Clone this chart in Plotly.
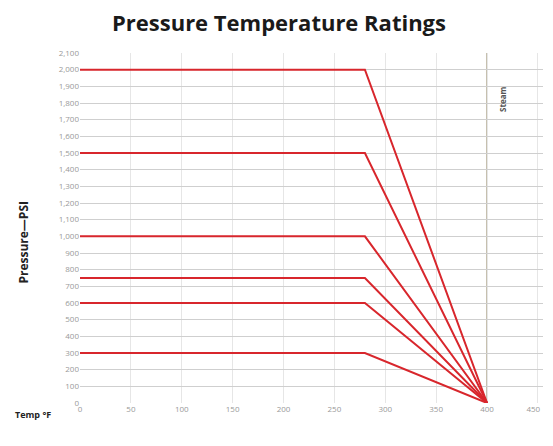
import plotly.graph_objects as go

# Data
ratings_psi = [2000, 1500, 1000, 750, 600, 300]
knee_temp_f = [0, 280, 400]          # start, end of full rating, zero-pressure temperature
x_ticks = [0, 50, 100, 150, 200, 250, 300, 350, 400, 450]
y_ticks = list(range(0, 2101, 100))
y_tick_labels = [f"{v:,}" for v in y_ticks]
max_temp_line = 400

x_tick_labels = [str(v) for v in x_ticks]
x_tick_labels[-1] = x_tick_labels[-1] + "\u2007\u2007"   # keep last label inside the window

fig = go.Figure()
for p in ratings_psi:
    fig.add_trace(go.Scatter(
        x=knee_temp_f,
        y=[p, p, 0],
        mode="lines",
        line=dict(color="#d8262c", width=2),
        showlegend=False,
        hoverinfo="skip",
    ))

fig.add_shape(type="line", xref="x", yref="paper", x0=max_temp_line, x1=max_temp_line,
              y0=0, y1=1, line=dict(color="#b0a890", width=1.5), layer="below")

fig.update_layout(
    width=553, height=446,
    margin=dict(l=72, r=13, t=45, b=51),
    paper_bgcolor="white", plot_bgcolor="white",
    xaxis=dict(range=[0, 455], tickvals=x_ticks, ticktext=x_tick_labels,
               showgrid=True, gridcolor="#e6e6e6", gridwidth=1, zeroline=False,
               showline=False, ticks="",
               tickfont=dict(family="Open Sans", size=8, color="#999999")),
    yaxis=dict(range=[0, 2100], tickvals=y_ticks, ticktext=y_tick_labels,
               showgrid=True, gridcolor="#cfcfcf", gridwidth=1, zeroline=False,
               showline=False, ticks="",
               tickfont=dict(family="Open Sans", size=8, color="#999999")),
    font=dict(family="Open Sans"),
)

fig.add_annotation(text="<b>Pressure Temperature Ratings</b>", xref="paper", yref="paper",
                   x=0.43, y=1.089, xanchor="center", yanchor="middle", showarrow=False,
                   font=dict(family="Open Sans", size=22, color="#1a1a1a"))
fig.add_annotation(text="<b>Pressure—PSI</b>", xref="paper", yref="paper",
                   x=-0.124, y=0.46, xanchor="center", yanchor="middle",
                   textangle=-90, showarrow=False,
                   font=dict(family="Open Sans", size=12, color="#222222"))
fig.add_annotation(text="<b>Temp °F</b>", xref="paper", yref="paper",
                   x=-0.145, y=-0.034, xanchor="left", yanchor="middle", showarrow=False,
                   font=dict(family="Open Sans", size=9, color="#222222"))
fig.add_annotation(text="<b>Steam</b>", xref="x", yref="paper",
                   x=max_temp_line, y=0.866, xshift=16, textangle=-90, showarrow=False,
                   xanchor="center", yanchor="middle",
                   font=dict(family="Open Sans", size=8, color="#555555"))

fig.write_html("out.html")
